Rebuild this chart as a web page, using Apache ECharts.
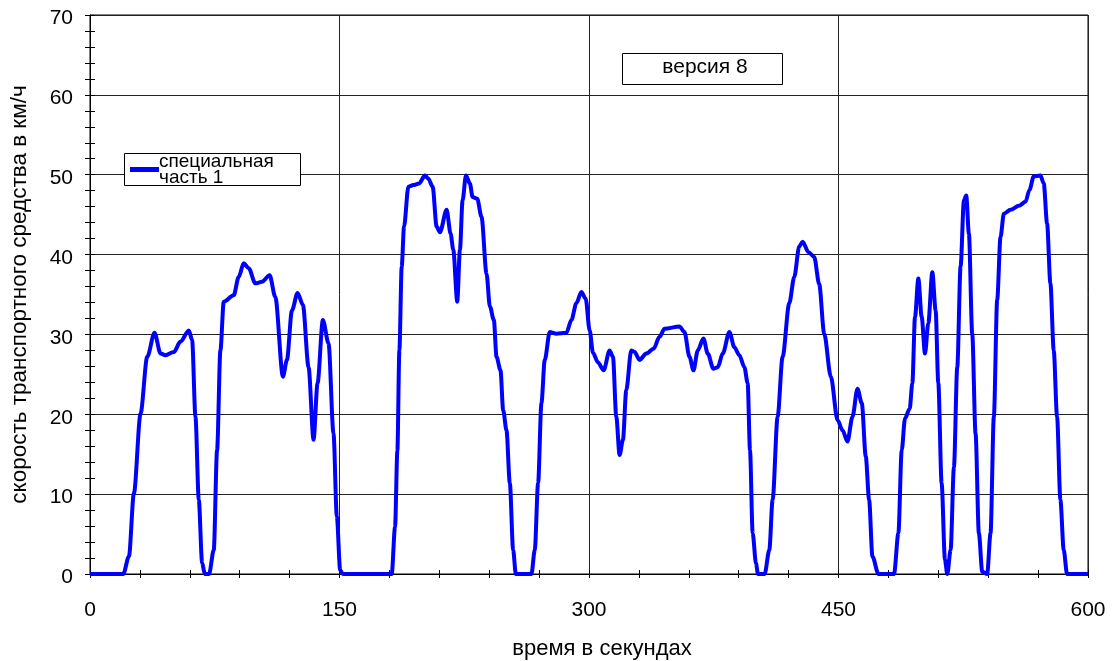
<!DOCTYPE html>
<html>
<head>
<meta charset="utf-8">
<script src="https://cdn.jsdelivr.net/npm/echarts@6/dist/echarts.min.js"></script>
<style>html,body{margin:0;padding:0;background:#fff}#c{width:1113px;height:661px}</style>
</head>
<body>
<div id="c"></div>
<script>
// time in seconds
var times = [0, 20, 23.4, 26.4, 30.4, 34.4, 38.8, 42.4, 45.4, 50.4, 54.4, 59.4, 61.4, 63.4, 65.4, 67.4, 69, 71.6, 74.4, 76.4, 78.4, 80.4, 86.4, 89.4, 92.4, 95.4, 99.4, 103.4, 108, 111.4, 116, 118.4, 121.4, 124.8, 128, 131.4, 134.4, 136.8, 140, 143.4, 146.4, 148.4, 150.4, 152,
  181.4, 183.4, 184.8, 186, 187.4, 188.8, 191.4, 194.4, 197.8, 201.4, 203.4, 206, 208.4, 210.4, 214.4, 216.8, 218.4, 220.8, 222.4, 224, 226, 228.4, 230, 232.8, 235.4, 238.4, 240.4, 242.8, 244.4, 246.8, 248.4, 250.4, 252.4, 254.4, 256,
  265.4, 267.4, 269.4, 271.4, 273.4, 276.4, 280.4, 286.4, 289.4, 292.4, 295.4, 298, 300.4, 302.4, 305.4, 308.8, 312.4, 314.4, 316.4, 318.4, 320.4, 322.4, 325.4, 327.4, 330.4, 334.4, 338.8, 342.4, 345.4, 354.4, 357.4, 360.4, 362.8, 365.4, 368.8, 371.4, 374.8, 377.4, 380.4, 384.4, 387.4, 390.4, 393.4, 395.4, 396.8, 398.4, 400.4, 401.6, 405.6,
  408.4, 410.4, 413.4, 416.4, 420.4, 423.4, 426.4, 428.4, 432, 435.4, 438.4, 441.4, 445.4, 449.4, 452.4, 455.4, 458.4, 461.4, 464, 466.4, 468.4, 470.4, 474,
  483.4, 486, 488, 490, 492.8, 494.4, 496, 498, 500, 502, 504, 506.4, 508.4, 510, 512, 514, 515.4, 517.4, 519.4, 521.4, 523.4, 525.4, 526.8, 528.4, 530.4, 532.4, 534.4, 536.4, 539.4,
  541.4, 543.4, 545.4, 547.4, 549.4, 553.4, 558.4, 562.4, 564.8, 567.4, 571.4, 573.4, 575.4, 577.4, 579.4, 581.4, 583.4, 585.4, 587.4, 600];
// speed in km/h
var speeds = [0, 0, 2.2, 10.1, 20.1, 27.2, 30.2, 27.6, 27.4, 27.8, 29.1, 30.5, 29.3, 19.7, 9.3, 1.4, 0, 0, 3, 15.5, 28, 34.1, 34.9, 37.2, 38.9, 38.3, 36.4, 36.6, 37.4, 34.7, 24.7, 26.8, 33, 35.2, 33.7, 25.9, 16.8, 23.9, 31.8, 28.9, 17.6, 7.2, 0.5, 0,
  0, 5.9, 15.5, 28, 38.5, 43.5, 48.5, 48.7, 48.9, 49.9, 49.5, 48.5, 43.5, 42.8, 45.6, 42.6, 40.6, 34.1, 40.6, 46.8, 49.9, 48.9, 47.2, 47, 44.7, 37.6, 33.5, 31.8, 27.2, 25.5, 20.5, 18, 11.4, 3, 0,
  0, 3, 11.4, 21.4, 26.8, 30.3, 30.1, 30.2, 31.8, 33.9, 35.3, 34.5, 30.5, 27.7, 26.5, 25.5, 28, 27.2, 19.7, 14.9, 16.8, 23, 28, 27.8, 26.8, 27.6, 28.2, 29.7, 30.7, 31, 30.3, 27.2, 25.5, 28, 29.5, 27.6, 25.7, 25.9, 27.6, 30.3, 28.4, 27.4, 25.9, 23.9, 15.5, 5.1, 1.3, 0, 0,
  3, 9.3, 19.7, 27.2, 33.9, 37.2, 41, 41.6, 40.3, 39.7, 36.3, 30.1, 24.7, 19.3, 18, 16.6, 19.7, 23.2, 21.4, 14.7, 9.3, 2.2, 0,
  0, 5.1, 15.5, 19.5, 20.7, 23.9, 32.2, 37, 32.2, 27.6, 31.4, 37.8, 33, 23.9, 11.4, 1.8, 0, 3, 13.4, 25.9, 38.5, 46.8, 47.4, 42.6, 30.1, 17.6, 5.1, 0.3, 0,
  5.1, 19.7, 34.3, 42.2, 45.1, 45.6, 46.1, 46.6, 48.1, 49.8, 49.9, 48.9, 43.9, 36.4, 28, 19.7, 9.3, 3, 0, 0];

var xTicks = ['0', '150', '300', '450', '600'];
var yTicks = ['0', '10', '20', '30', '40', '50', '60', '70'];
var seriesName = 'специальная часть 1';
var legendLines = ['специальная', 'часть 1'];
var versionLabel = 'версия 8';
var xTitle = 'время в секундах';
var yTitle = 'скорость транспортного средства в км/ч';

var FONT = '"Liberation Sans", Arial, sans-serif';
var data = times.map(function (t, i) { return [t, speeds[i]]; });

var chart = echarts.init(document.getElementById('c'), null, {renderer: 'canvas'});

function xAx(main) {
  return {
    type: 'value', position: 'bottom', min: 0, max: 600, interval: 150,
    name: main ? xTitle : '', nameLocation: 'middle', nameGap: 64,
    nameTextStyle: {fontFamily: FONT, fontSize: 22, color: '#000', padding: [0, 0, 0, 26]},
    axisLine: {show: main, lineStyle: {color: '#000', width: 1}},
    axisTick: {show: true, inside: main, length: 4, lineStyle: {color: '#000'}},
    minorTick: {show: true, splitNumber: 5, length: 4, lineStyle: {color: '#000'}},
    axisLabel: {show: main, margin: 26, fontFamily: FONT, fontSize: 21, color: '#000',
      formatter: function (v) { return xTicks[Math.round(v / 150)]; }},
    splitLine: {show: main, lineStyle: {color: '#222', width: 1}},
    minorSplitLine: {show: false}
  };
}
function yAx(main) {
  return {
    type: 'value', position: 'left', min: 0, max: 70, interval: 10,
    name: main ? yTitle : '', nameLocation: 'middle', nameGap: 59,
    nameTextStyle: {fontFamily: FONT, fontSize: 22.5, color: '#000'},
    axisLine: {show: main, lineStyle: {color: '#000', width: 1}},
    axisTick: {show: true, inside: main, length: 5, lineStyle: {color: '#000'}},
    minorTick: {show: true, splitNumber: 5, length: 5, lineStyle: {color: '#000'}},
    axisLabel: {show: main, margin: 17, fontFamily: FONT, fontSize: 21, color: '#000',
      verticalAlign: 'top', lineHeight: 7,
      formatter: function (v) { return yTicks[Math.round(v / 10)]; }},
    splitLine: {show: main, lineStyle: {color: '#222', width: 1}},
    minorSplitLine: {show: false}
  };
}

var option = {
  backgroundColor: '#fff',
  animation: false,
  grid: {left: 90, right: 25, top: 15, bottom: 87, show: true, borderColor: '#000', borderWidth: 1,
    containLabel: false, outerBoundsMode: 'none'},
  xAxis: [xAx(true), xAx(false)],
  yAxis: [yAx(true), yAx(false)],
  legend: {
    show: true, left: 130, top: 152, padding: 0, z: 10,
    icon: 'rect', itemWidth: 29, itemHeight: 5,
    data: [seriesName],
    formatter: function () { return legendLines.join('\n'); },
    textStyle: {fontFamily: FONT, fontSize: 19, lineHeight: 16, color: '#000', padding: [0, 0, 0, -5]}
  },
  graphic: [
    {type: 'rect', z: 8, shape: {x: 124.5, y: 153.5, width: 176, height: 32},
      style: {fill: '#fff', stroke: '#000', lineWidth: 1}},
    {type: 'rect', z: 8, shape: {x: 622.5, y: 53.5, width: 160, height: 31},
      style: {fill: '#fff', stroke: '#000', lineWidth: 1}},
    {type: 'text', z: 9, x: 705, y: 67,
      style: {text: versionLabel, fill: '#000', font: '21px ' + FONT, textAlign: 'center', textVerticalAlign: 'middle'}}
  ],
  series: [{
    name: seriesName, type: 'line', xAxisIndex: 0, yAxisIndex: 0,
    data: data, showSymbol: false, symbol: 'none',
    smooth: 0.3, smoothMonotone: 'x',
    lineStyle: {color: '#0000ff', width: 4},
    itemStyle: {color: '#0000ff'}
  }]
};
chart.setOption(option);
</script>
</body>
</html>
